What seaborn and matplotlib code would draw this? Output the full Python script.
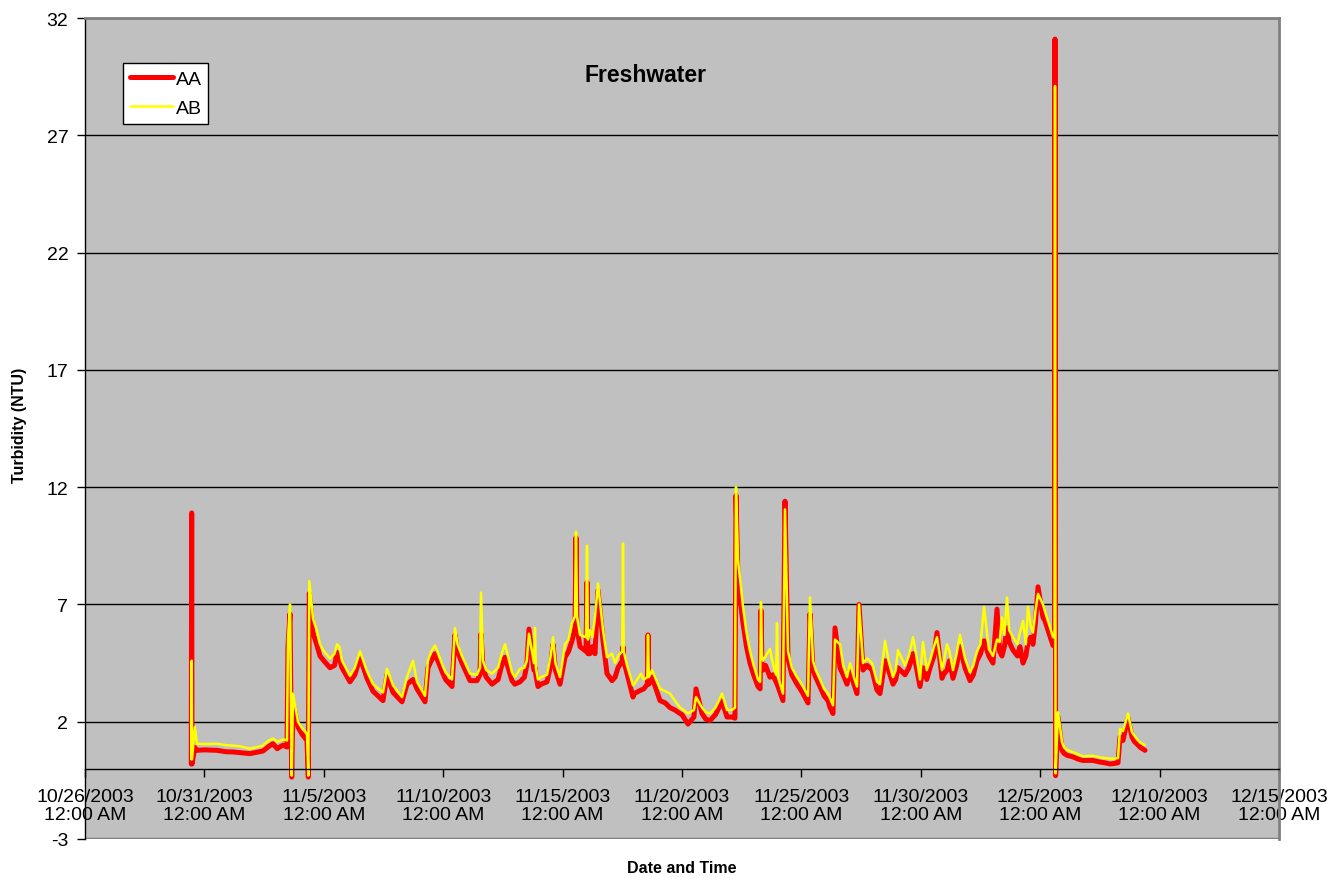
import pandas as pd
import matplotlib
matplotlib.use("Agg")
import matplotlib.pyplot as plt
from matplotlib.ticker import FuncFormatter
import seaborn as sns

# Turbidity logger readings, time measured in days from 10/26/2003 12:00 AM
record_start = "2003-10-26"
elapsed_days = [
    4.450, 4.468, 4.481, 4.600, 4.690, 5.000, 5.530, 5.900, 6.200, 6.500,
    6.910, 7.200, 7.450, 7.700, 7.870, 8.050, 8.200, 8.300, 8.459, 8.500,
    8.585, 8.656, 8.710, 8.920, 9.100, 9.296, 9.351, 9.393, 9.548, 9.700,
    9.841, 10.000, 10.260, 10.450, 10.553, 10.650, 10.762, 11.097, 11.300, 11.516,
    11.809, 12.060, 12.479, 12.647, 12.898, 13.275, 13.484, 13.735, 13.903, 14.238,
    14.363, 14.500, 14.657, 14.992, 15.100, 15.369, 15.494, 15.600, 15.787, 16.122,
    16.415, 16.541, 16.583, 16.667, 16.800, 17.044, 17.300, 17.450, 17.588, 17.881,
    18.000, 18.216, 18.400, 18.500, 18.593, 18.800, 18.844, 18.880, 18.970, 19.100,
    19.347, 19.500, 19.598, 19.700, 19.891, 20.000, 20.101, 20.250, 20.394, 20.520,
    20.561, 20.600, 20.729, 20.980, 21.022, 21.060, 21.147, 21.250, 21.357, 21.482,
    21.692, 21.859, 22.069, 22.200, 22.320, 22.500, 22.529, 22.560, 22.697, 22.948,
    23.000, 23.283, 23.400, 23.550, 23.576, 23.610, 23.744, 24.079, 24.300, 24.497,
    24.700, 24.916, 25.000, 25.251, 25.500, 25.586, 25.838, 26.000, 26.173, 26.400,
    26.550, 26.675, 26.884, 27.100, 27.219, 27.261, 27.345, 27.554, 27.700, 27.848,
    28.000, 28.183, 28.270, 28.308, 28.350, 28.392, 28.500, 28.685, 28.800, 28.940,
    28.978, 29.020, 29.229, 29.313, 29.439, 29.600, 29.816, 29.950, 30.067, 30.276,
    30.360, 30.486, 30.600, 30.779, 30.950, 31.114, 31.200, 31.323, 31.407, 31.616,
    31.750, 31.910, 32.035, 32.200, 32.328, 32.412, 32.580, 32.750, 32.956, 33.166,
    33.291, 33.501, 33.650, 33.836, 33.950, 34.045, 34.338, 34.500, 34.673, 34.800,
    34.966, 35.092, 35.250, 35.385, 35.550, 35.678, 35.888, 35.950, 36.097, 36.200,
    36.348, 36.500, 36.642, 36.850, 37.060, 37.200, 37.353, 37.500, 37.647, 37.850,
    38.023, 38.191, 38.300, 38.400, 38.500, 38.610, 38.700, 38.861, 39.050, 39.150,
    39.280, 39.400, 39.489, 39.600, 39.698, 39.800, 39.908, 40.117, 40.200, 40.327,
    40.450, 40.536, 40.600, 40.620, 40.645, 40.745, 40.913, 41.000, 41.122, 41.374,
    41.600, 41.792, 42.200, 42.504, 42.700, 42.923, 43.100, 43.258, 43.342, 43.467,
    43.550, 43.677, 43.844, 43.950, 44.054, 44.200, 44.389,
]
aa_ntu = [
    0.20, 10.90, 0.20, 0.90, 0.78, 0.80, 0.78, 0.72, 0.71, 0.68,
    0.64, 0.70, 0.75, 0.95, 1.06, 0.85, 0.95, 1.00, 0.92, 5.20,
    6.60, -0.36, 2.80, 1.77, 1.45, 1.20, -0.36, 7.47, 5.80, 5.30,
    4.80, 4.60, 4.30, 4.40, 4.95, 4.70, 4.30, 3.70, 4.00, 4.75,
    3.85, 3.30, 2.90, 4.00, 3.25, 2.85, 3.60, 3.80, 3.40, 2.85,
    4.30, 4.60, 4.90, 4.05, 3.80, 3.50, 5.70, 5.00, 4.50, 3.75,
    3.75, 4.00, 5.75, 4.30, 3.90, 3.60, 3.80, 4.40, 4.75, 3.75,
    3.60, 3.70, 3.90, 4.40, 5.95, 4.20, 4.30, 4.00, 3.50, 3.60,
    3.70, 4.40, 5.30, 4.20, 3.60, 4.20, 4.75, 5.00, 5.45, 6.00,
    9.85, 6.00, 5.20, 5.00, 7.95, 4.90, 4.90, 5.20, 4.90, 7.60,
    5.45, 4.05, 3.75, 3.90, 4.30, 4.60, 5.20, 4.60, 4.05, 3.05,
    3.20, 3.35, 3.40, 3.60, 5.70, 3.60, 3.90, 2.90, 2.80, 2.60,
    2.50, 2.35, 2.30, 1.90, 2.20, 3.40, 2.35, 2.10, 2.05, 2.30,
    2.60, 2.90, 2.20, 2.20, 2.15, 11.65, 8.00, 6.20, 5.20, 4.50,
    4.00, 3.50, 3.40, 6.75, 4.40, 4.20, 4.40, 3.90, 4.00, 3.70,
    3.60, 3.50, 2.90, 11.40, 4.70, 4.00, 3.60, 3.40, 3.20, 2.80,
    6.60, 4.20, 3.90, 3.50, 3.10, 2.90, 2.60, 2.35, 6.00, 4.30,
    4.00, 3.60, 4.20, 3.60, 3.20, 7.00, 4.20, 4.40, 4.20, 3.35,
    3.20, 4.60, 4.20, 3.60, 3.80, 4.30, 4.00, 4.30, 4.90, 4.40,
    3.50, 4.30, 3.80, 4.30, 4.80, 5.80, 3.85, 4.00, 4.20, 4.60,
    3.85, 4.40, 5.20, 4.30, 3.75, 4.00, 4.60, 4.90, 5.45, 4.80,
    4.50, 6.80, 5.00, 4.80, 5.20, 6.00, 5.40, 5.05, 4.80, 5.20,
    4.50, 4.80, 5.40, 5.60, 5.30, 6.20, 7.75, 6.45, 6.30, 5.90,
    5.50, 5.25, 5.30, 31.10, -0.30, 2.20, 0.78, 0.65, 0.57, 0.50,
    0.40, 0.35, 0.35, 0.28, 0.25, 0.20, 0.22, 0.25, 1.35, 1.20,
    1.60, 2.15, 1.35, 1.15, 1.05, 0.90, 0.78,
]
ab_ntu = [
    0.40, 4.60, 0.40, 1.77, 1.06, 1.05, 1.06, 1.00, 0.98, 0.95,
    0.85, 0.92, 0.98, 1.20, 1.28, 1.15, 1.20, 1.25, 1.20, 5.50,
    7.00, -0.30, 3.20, 2.00, 1.70, 1.50, -0.30, 8.00, 6.40, 5.90,
    5.30, 5.00, 4.70, 4.90, 5.30, 5.20, 4.60, 3.95, 4.30, 5.00,
    4.15, 3.60, 3.25, 4.25, 3.55, 3.05, 3.90, 4.60, 3.70, 3.10,
    4.60, 5.00, 5.25, 4.35, 4.10, 3.80, 6.00, 5.30, 4.80, 4.05,
    4.00, 4.30, 7.50, 4.60, 4.20, 4.05, 4.30, 4.90, 5.30, 4.10,
    3.90, 4.25, 4.30, 4.60, 5.75, 4.50, 6.00, 4.30, 3.80, 3.90,
    4.00, 4.80, 5.60, 4.50, 3.90, 4.60, 5.30, 5.50, 6.20, 6.50,
    10.10, 6.50, 5.70, 5.60, 9.50, 5.50, 5.90, 5.60, 6.45, 7.90,
    5.90, 4.75, 4.90, 4.50, 4.80, 5.00, 9.60, 5.00, 4.40, 3.55,
    3.60, 4.05, 3.80, 3.90, 5.70, 3.90, 4.20, 3.40, 3.30, 3.20,
    2.90, 2.60, 2.55, 2.35, 2.50, 3.05, 2.60, 2.40, 2.35, 2.60,
    2.90, 3.20, 2.50, 2.50, 2.60, 12.00, 8.90, 6.90, 5.80, 5.00,
    4.40, 3.80, 3.70, 7.10, 4.80, 4.60, 4.80, 5.10, 4.50, 4.00,
    6.20, 3.90, 3.20, 11.05, 5.00, 4.30, 3.90, 3.70, 3.50, 3.10,
    7.30, 4.60, 4.20, 3.80, 3.40, 3.20, 3.00, 2.70, 5.50, 5.30,
    4.40, 3.90, 4.50, 3.90, 3.50, 7.00, 4.50, 4.70, 4.50, 3.70,
    3.60, 5.45, 4.60, 3.90, 4.20, 5.05, 4.40, 4.80, 5.60, 4.90,
    3.80, 5.40, 4.20, 4.60, 5.20, 5.60, 4.20, 4.50, 5.30, 5.00,
    4.20, 4.90, 5.70, 4.70, 4.10, 4.40, 5.00, 5.30, 6.90, 5.10,
    4.80, 5.50, 5.40, 6.45, 5.70, 7.30, 5.90, 5.60, 5.30, 5.80,
    6.30, 5.30, 6.90, 6.10, 5.80, 6.70, 7.45, 7.00, 6.70, 6.30,
    5.90, 5.60, 5.60, 29.10, -0.20, 2.40, 1.13, 0.90, 0.80, 0.70,
    0.60, 0.52, 0.55, 0.48, 0.45, 0.43, 0.42, 0.45, 1.70, 1.60,
    1.90, 2.35, 1.55, 1.40, 1.25, 1.10, 1.00,
]

series_names = ["AA", "AB"]
series_colors = ["#FF0000", "#FFFF00"]
series_widths = [3.6, 1.8]

y_ticks = [-3, 2, 7, 12, 17, 22, 27, 32]
x_span_days = 50
x_tick_step = "5D"

sns.set_style("white")
plt.rcParams["font.family"] = ["Liberation Sans", "DejaVu Sans"]
plt.rcParams["axes.unicode_minus"] = False
for key in ("text.color", "axes.labelcolor", "xtick.color", "ytick.color"):
    plt.rcParams[key] = "black"

start = pd.Timestamp(record_start)
times = start + pd.to_timedelta(elapsed_days, unit="D")
frames = {
    "AA": pd.DataFrame({"time": times, "ntu": aa_ntu}),
    "AB": pd.DataFrame({"time": times, "ntu": ab_ntu}),
}

W, H = 1334, 879
fig = plt.figure(figsize=(W / 100, H / 100), dpi=100)
ax = fig.add_axes([85 / W, 1 - 840 / H, 1194 / W, 821 / H])
ax.set_facecolor("#C0C0C0")

for name, color, lw in zip(series_names, series_colors, series_widths):
    sns.lineplot(data=frames[name], x="time", y="ntu", ax=ax, color=color,
                 linewidth=lw, label=name, estimator=None, sort=False,
                 solid_joinstyle="round", solid_capstyle="round")

end = start + pd.Timedelta(days=x_span_days)
ax.set_xlim(start, end)
ax.set_ylim(y_ticks[0], y_ticks[-1])
ax.set_yticks(y_ticks)
ax.set_xticks(pd.date_range(start, end, freq=x_tick_step))
ax.xaxis.set_major_formatter(FuncFormatter(
    lambda v, pos: (lambda d: f"{d.month}/{d.day}/{d.year}\n12:00 AM")(
        matplotlib.dates.num2date(v))))

ax.set_axisbelow(True)
ax.yaxis.grid(True, color="black", linewidth=1.0)
ax.xaxis.grid(False)
ax.axhline(y_ticks[0], color="#808080", linewidth=2.5, zorder=1)

ax.spines["bottom"].set_position(("data", 0))
ax.spines["bottom"].set_color("black")
ax.spines["bottom"].set_linewidth(1.0)
ax.spines["left"].set_color("black")
ax.spines["left"].set_linewidth(1.0)
for side in ("top", "right"):
    ax.spines[side].set_color("#808080")
    ax.spines[side].set_linewidth(2.0)

ax.tick_params(axis="y", direction="out", length=6, width=1, color="black",
               labelcolor="black", labelsize=14, pad=6, left=True)
ax.tick_params(axis="x", direction="out", length=6, width=1, color="black",
               labelcolor="black", labelsize=14, pad=8, bottom=True)
for lbl in ax.get_xticklabels():
    lbl.set_linespacing(1.05)

ax.set_xlabel("")
ax.set_ylabel("")

leg = ax.legend(loc="upper left", bbox_to_anchor=(0.0318, 0.945),
                borderaxespad=0, frameon=True, fancybox=False,
                edgecolor="black", facecolor="white", framealpha=1,
                fontsize=14, handlelength=2.2, handletextpad=0.15,
                borderpad=0.35, labelspacing=0.6)
leg.get_frame().set_linewidth(1.0)
for t in leg.get_texts():
    t.set_color("black")

fig.text(645 / W, 1 - 75 / H, "Freshwater", fontsize=16.5, fontweight="bold",
         ha="center", va="center", color="black")
fig.text(20 / W, 1 - 425 / H, "Turbidity (NTU)", fontsize=11.5, fontweight="bold",
         rotation=90, ha="center", va="center", color="black")
fig.text(682 / W, 1 - 869 / H, "Date and Time", fontsize=11.5, fontweight="bold",
         ha="center", va="center", color="black")

fig.savefig("out.png", dpi=100, facecolor="white")
